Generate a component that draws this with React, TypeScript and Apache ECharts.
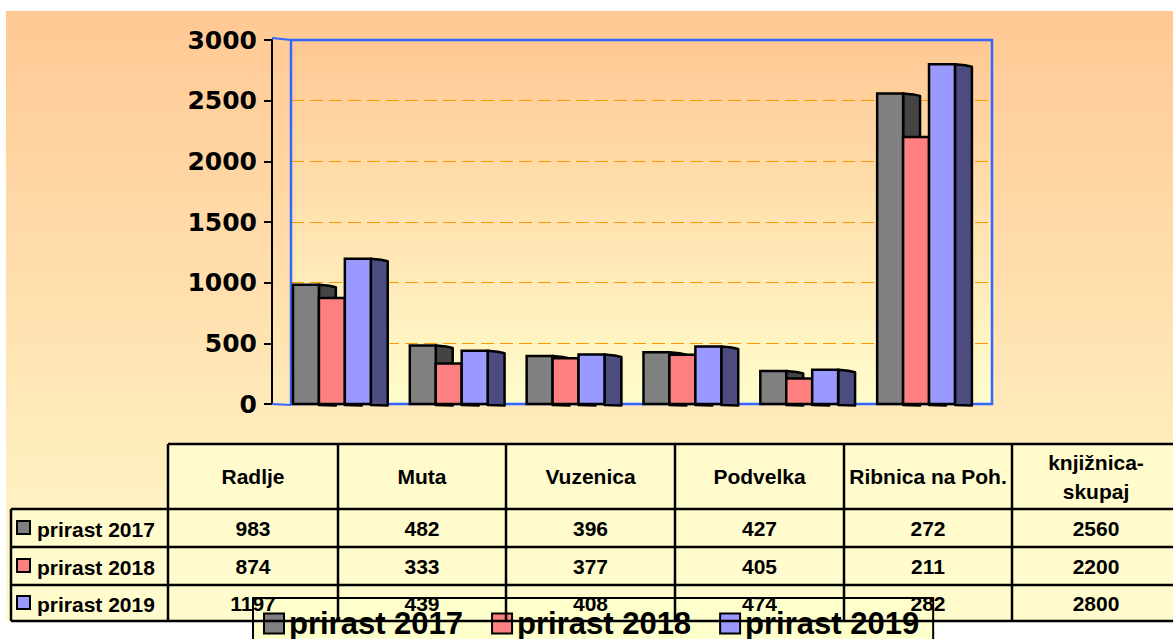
import React, { useEffect, useRef } from "react";
import * as echarts from "echarts";

const categories = ["Radlje", "Muta", "Vuzenica", "Podvelka", "Ribnica na Poh.", "knjižnica-\nskupaj"];
const seriesNames = ["prirast 2017", "prirast 2018", "prirast 2019"];
const values2017 = [983, 482, 396, 427, 272, 2560];
const values2018 = [874, 333, 377, 405, 211, 2200];
const values2019 = [1197, 439, 408, 474, 282, 2800];
const yMax = 3000;
const yStep = 500;
const frontColors = ["#808080", "#FF8080", "#9999FF"];
const sideColors = ["#444444", "#804040", "#4C4C80"];

const allValues = [values2017, values2018, values2019];

const GRID = { left: 291, top: 40, width: 701, height: 364 };
const TABLE = {
  cols: [168, 338, 506, 675, 844, 1012, 1180],
  rows: [444, 509, 547, 585, 621],
  labelLeft: 11,
};
const FONT = "Liberation Sans, Arial, sans-serif";

function buildTable(): any[] {
  const els: any[] = [];
  const { cols, rows, labelLeft } = TABLE;
  els.push({
    type: "rect", z: 1, silent: true,
    shape: { x: cols[0], y: rows[0], width: cols[cols.length - 1] - cols[0], height: rows[1] - rows[0] },
    style: { fill: "#FFFBCC" },
  });
  els.push({
    type: "rect", z: 1, silent: true,
    shape: { x: labelLeft, y: rows[1], width: cols[cols.length - 1] - labelLeft, height: rows[rows.length - 1] - rows[1] },
    style: { fill: "#FFFBCC" },
  });
  const line = (x1: number, y1: number, x2: number, y2: number) => ({
    type: "line", z: 5, silent: true,
    shape: { x1, y1, x2, y2 },
    style: { stroke: "#000", lineWidth: 2.5 },
  });
  els.push(line(cols[0], rows[0], cols[cols.length - 1], rows[0]));
  for (let r = 1; r < rows.length; r++) els.push(line(labelLeft, rows[r], cols[cols.length - 1], rows[r]));
  els.push(line(labelLeft, rows[1], labelLeft, rows[rows.length - 1]));
  for (let c = 0; c < cols.length - 1; c++) els.push(line(cols[c], rows[0], cols[c], rows[rows.length - 1]));
  categories.forEach((cat, i) => {
    els.push({
      type: "text", z: 6, silent: true,
      x: (cols[i] + cols[i + 1]) / 2,
      y: (rows[0] + rows[1]) / 2,
      style: {
        text: cat, fill: "#000", font: `bold 21px ${FONT}`,
        align: "center", verticalAlign: "middle", lineHeight: 29,
      },
    });
  });
  seriesNames.forEach((name, s) => {
    const cy = (rows[s + 1] + rows[s + 2]) / 2;
    els.push({
      type: "rect", z: 6, silent: true,
      shape: { x: 17, y: cy - 7, width: 13, height: 13 },
      style: { fill: frontColors[s], stroke: "#000", lineWidth: 2 },
    });
    els.push({
      type: "text", z: 6, silent: true,
      x: 37, y: cy + 1,
      style: { text: name, fill: "#000", font: `bold 21px ${FONT}`, align: "left", verticalAlign: "middle" },
    });
    allValues[s].forEach((v, i) => {
      els.push({
        type: "text", z: 6, silent: true,
        x: (cols[i] + cols[i + 1]) / 2, y: cy,
        style: { text: String(v), fill: "#000", font: `bold 21px ${FONT}`, align: "center", verticalAlign: "middle" },
      });
    });
  });
  return els;
}

function makeRenderItem(s: number) {
  return (params: any, api: any) => {
    const ci = api.value(0);
    const v = api.value(1);
    const top = api.coord([ci, v]);
    const base = api.coord([ci, 0]);
    const bw = api.size([1, 0])[0];
    const fw = bw * 0.222;
    const sw = bw * 0.145;
    const x0 = top[0] - bw / 2 + bw * 0.017 + s * fw;
    const yT = top[1];
    const yB = base[1];
    return {
      type: "group",
      children: [
        {
          type: "polygon",
          shape: {
            points: [
              [x0 + fw, yT],
              [x0 + fw + sw * 0.6, yT + 1],
              [x0 + fw + sw, yT + 2.5],
              [x0 + fw + sw, yB + 1.5],
              [x0 + fw, yB + 1],
            ],
          },
          style: { fill: sideColors[s], stroke: "#000", lineWidth: 2.5, lineJoin: "round" },
        },
        {
          type: "rect",
          shape: { x: x0, y: yT, width: fw, height: yB - yT },
          style: { fill: frontColors[s], stroke: "#000", lineWidth: 2.5 },
        },
      ],
    };
  };
}

export default function App() {
  const ref = useRef<HTMLDivElement>(null);
  useEffect(() => {
    if (!ref.current) return;
    const chart = echarts.init(ref.current, undefined, { renderer: "svg" });
    const option: any = {
      animation: false,
      grid: { ...GRID, containLabel: false },
      xAxis: {
        type: "category",
        data: categories,
        axisLine: { show: false },
        axisTick: { show: false },
        axisLabel: { show: false },
        splitLine: { show: false },
      },
      yAxis: {
        type: "value",
        min: 0,
        max: yMax,
        interval: yStep,
        offset: 19,
        axisLine: { show: true, lineStyle: { color: "#000", width: 2 } },
        axisTick: { show: true, length: 8, lineStyle: { color: "#000", width: 2 } },
        axisLabel: {
          fontSize: 25, fontWeight: "bold", fontFamily: "DejaVu Sans", color: "#000", margin: 15,
          formatter: (v: number) => String(v),
        },
        splitLine: { show: true, lineStyle: { color: "#FF9900", width: 1, type: [13, 6] } },
      },
      legend: {
        left: 253,
        top: 598,
        data: seriesNames.map((n) => ({ name: n, icon: "rect" })),
        itemWidth: 20,
        itemHeight: 20,
        itemGap: 28,
        itemStyle: { borderColor: "#000", borderWidth: 2 },
        textStyle: { fontSize: 31, fontWeight: "bold", fontFamily: FONT, color: "#000" },
        backgroundColor: "#FFFFCC",
        borderColor: "#000",
        borderWidth: 2,
        padding: [10, 14, 30, 10],
        z: 3,
      },
      graphic: [
        {
          type: "rect", z: -10, silent: true,
          shape: { x: 6, y: 11, width: 1173, height: 610 },
          style: {
            fill: new echarts.graphic.LinearGradient(0, 0, 0, 1, [
              { offset: 0, color: "#FFC894" },
              { offset: 1, color: "#FFFBCC" },
            ]),
          },
        },
        {
          type: "rect", z: -9, silent: true,
          shape: { x: GRID.left, y: GRID.top, width: GRID.width, height: GRID.height },
          style: {
            fill: new echarts.graphic.LinearGradient(0, 0, 0, 1, [
              { offset: 0, color: "#FFC894" },
              { offset: 1, color: "#FFFDCC" },
            ]),
          },
        },
        {
          type: "rect", z: 1, silent: true,
          shape: { x: GRID.left, y: GRID.top, width: GRID.width, height: GRID.height },
          style: { fill: "none", stroke: "#3366FF", lineWidth: 2.5 },
        },
        {
          type: "polyline", z: 1, silent: true,
          shape: { points: [[272, 38], [291, 40]] },
          style: { stroke: "#3366FF", lineWidth: 2, fill: "none" },
        },
        {
          type: "polyline", z: 1, silent: true,
          shape: { points: [[272, 404], [291, 405]] },
          style: { stroke: "#3366FF", lineWidth: 2, fill: "none" },
        },
        ...buildTable(),
      ],
      series: seriesNames.map((name, s) => ({
        type: "custom",
        name,
        z: 2,
        itemStyle: { color: frontColors[s] },
        renderItem: makeRenderItem(s),
        encode: { x: 0, y: 1 },
        data: allValues[s].map((v, i) => [i, v]),
      })),
    };
    chart.setOption(option);
    return () => chart.dispose();
  }, []);
  return (
    <div
      ref={ref}
      style={{ position: "absolute", left: 0, top: 0, width: 1173, height: 639, overflow: "hidden" }}
    />
  );
}
